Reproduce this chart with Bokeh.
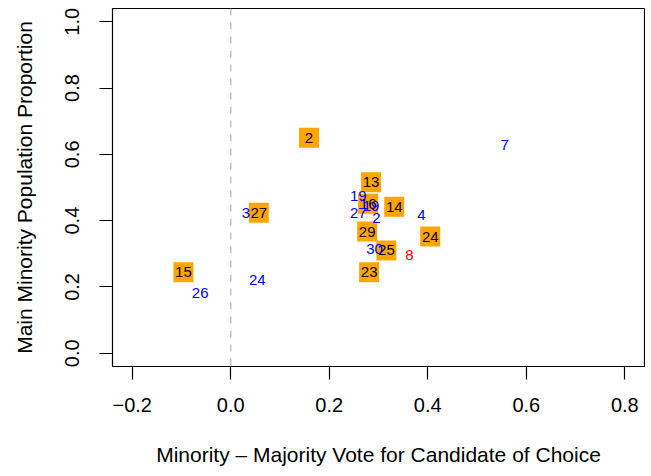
from bokeh.plotting import figure
from bokeh.models import ColumnDataSource, FixedTicker, Span
from bokeh.core.properties import value
from bokeh.embed import file_html
from bokeh.resources import INLINE

# Orange boxed labels
box_labels = ["2", "27", "15", "13", "14", "16", "29", "25", "23", "24"]
box_x = [0.159, 0.057, -0.096, 0.285, 0.332, 0.279, 0.277, 0.316, 0.281, 0.405]
box_y = [0.650, 0.424, 0.244, 0.516, 0.442, 0.451, 0.367, 0.310, 0.244, 0.352]

# Blue text labels
blue_labels = ["7", "19", "19", "27", "2", "4", "3", "30", "24", "26"]
blue_x = [0.556, 0.259, 0.285, 0.259, 0.296, 0.387, 0.031, 0.292, 0.054, -0.062]
blue_y = [0.628, 0.475, 0.445, 0.424, 0.409, 0.418, 0.424, 0.313, 0.220, 0.181]

# Red text labels
red_labels = ["8"]
red_x = [0.363]
red_y = [0.295]

x_ticks = [-0.2, 0.0, 0.2, 0.4, 0.6, 0.8]
x_tick_labels = ["\u22120.2", "0.0", "0.2", "0.4", "0.6", "0.8"]
y_ticks = [0.0, 0.2, 0.4, 0.6, 0.8, 1.0]
y_tick_labels = ["0.0", "0.2", "0.4", "0.6", "0.8", "1.0"]

FONT = "Liberation Sans"

p = figure(width=645, height=468, output_backend="svg", toolbar_location=None,
           x_range=(-0.24, 0.84), y_range=(-0.04, 1.04),
           min_border_left=112, min_border_right=1, min_border_top=8, min_border_bottom=100)
p.xgrid.visible = False
p.ygrid.visible = False
p.outline_line_color = "black"
p.outline_line_width = 1.2
p.background_fill_color = "white"
p.border_fill_color = "white"

p.add_layout(Span(location=0, dimension="height", line_color="#BEBEBE",
                  line_dash="7 7", line_width=1.5))

bsrc = ColumnDataSource(dict(x=box_x, y=box_y, t=box_labels))
p.rect("x", "y", width=20, height=20, width_units="screen", height_units="screen",
       source=bsrc, fill_color="#FFA500", line_color=None)
p.text("x", "y", text="t", source=bsrc, text_color="black", text_align="center",
       text_baseline="middle", text_font=value(FONT), text_font_size="15px")

src_b = ColumnDataSource(dict(x=blue_x, y=blue_y, t=blue_labels))
p.text("x", "y", text="t", source=src_b, text_color="#0000FF", text_align="center",
       text_baseline="middle", text_font=value(FONT), text_font_size="15px")

src_r = ColumnDataSource(dict(x=red_x, y=red_y, t=red_labels))
p.text("x", "y", text="t", source=src_r, text_color="#FF0000", text_align="center",
       text_baseline="middle", text_font=value(FONT), text_font_size="15px")

for ax in (p.xaxis[0], p.yaxis[0]):
    ax.axis_line_color = "black"
    ax.major_tick_line_color = "black"
    ax.major_tick_line_width = 1.2
    ax.minor_tick_line_color = None
    ax.major_tick_in = 0
    ax.major_tick_out = 13
    ax.major_label_text_font = FONT
    ax.major_label_text_font_size = "20px"
    ax.major_label_text_color = "black"
    ax.axis_label_text_font = FONT
    ax.axis_label_text_font_size = "21px"
    ax.axis_label_text_font_style = "normal"
    ax.axis_label_text_color = "black"

p.xaxis.ticker = FixedTicker(ticks=x_ticks)
p.xaxis.major_label_overrides = {t: l for t, l in zip(x_ticks, x_tick_labels)}
p.yaxis.ticker = FixedTicker(ticks=y_ticks)
p.yaxis.major_label_overrides = {t: l for t, l in zip(y_ticks, y_tick_labels)}
p.yaxis.major_label_orientation = "vertical"
p.xaxis.major_label_standoff = 18
p.yaxis.major_label_standoff = 20
p.xaxis.axis_label = "Minority \u2013 Majority Vote for Candidate of Choice"
p.yaxis.axis_label = "Main Minority Population Proportion"
p.xaxis.axis_label_standoff = 28
p.yaxis.axis_label_standoff = 27

open("out.html", "w").write(file_html(p, INLINE))
